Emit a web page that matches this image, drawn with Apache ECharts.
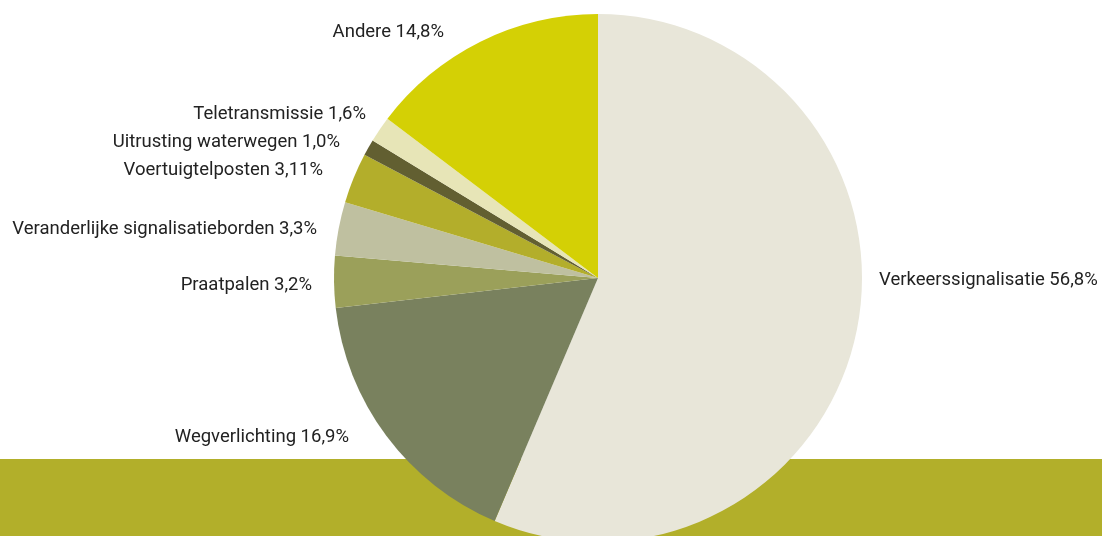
<!DOCTYPE html>
<html>
<head>
<meta charset="utf-8">
<script src="https://cdn.jsdelivr.net/npm/echarts@6/dist/echarts.min.js"></script>
<style>
  html, body { margin: 0; padding: 0; background: #ffffff; }
  #chart { width: 1102px; height: 536px; }
</style>
</head>
<body>
<div id="chart"></div>
<script>
// Share of equipment categories (percent), clockwise from 12 o'clock
const categories = [
  'Verkeerssignalisatie',
  'Wegverlichting',
  'Praatpalen',
  'Veranderlijke signalisatieborden',
  'Voertuigtelposten',
  'Uitrusting waterwegen',
  'Teletransmissie',
  'Andere'
];
const shares = [56.8, 16.9, 3.2, 3.3, 3.11, 1.0, 1.6, 14.8];
const shareLabels = ['56,8%', '16,9%', '3,2%', '3,3%', '3,11%', '1,0%', '1,6%', '14,8%'];

const sliceColors = ['#e8e6d9', '#79815e', '#9ba05a', '#bfc0a0', '#b3ae2b', '#625f31', '#e7e5b7', '#d4d005'];

// label anchor per slice: [x, y, align]
const labelAnchors = [
  [879, 280, 'left'],
  [349, 437, 'right'],
  [312, 285, 'right'],
  [317, 229, 'right'],
  [323, 170, 'right'],
  [340, 142, 'right'],
  [366, 114, 'right'],
  [444, 32, 'right']
];

const chart = echarts.init(document.getElementById('chart'), null, { renderer: 'canvas' });

chart.setOption({
  animation: false,
  backgroundColor: '#ffffff',
  graphic: [{
    type: 'rect',
    z: -10,
    silent: true,
    shape: { x: 0, y: 459, width: 1102, height: 77 },
    style: { fill: '#b2af2a' }
  }],
  series: [{
    type: 'pie',
    z: 5,
    center: [598, 278],
    radius: 264,
    startAngle: 90,
    clockwise: true,
    avoidLabelOverlap: false,
    data: categories.map((name, i) => ({
      name: name,
      value: shares[i],
      itemStyle: { color: sliceColors[i] }
    })),
    itemStyle: { borderWidth: 0 },
    label: {
      show: true,
      position: 'outside',
      fontFamily: 'Roboto',
      fontSize: 18.5,
      color: '#222222',
      formatter: p => p.name + ' ' + shareLabels[p.dataIndex]
    },
    labelLine: { show: false },
    labelLayout: p => {
      const a = labelAnchors[p.dataIndex];
      return { x: a[0], y: a[1], align: a[2], verticalAlign: 'middle' };
    },
    emphasis: { disabled: true }
  }]
});
</script>
</body>
</html>
